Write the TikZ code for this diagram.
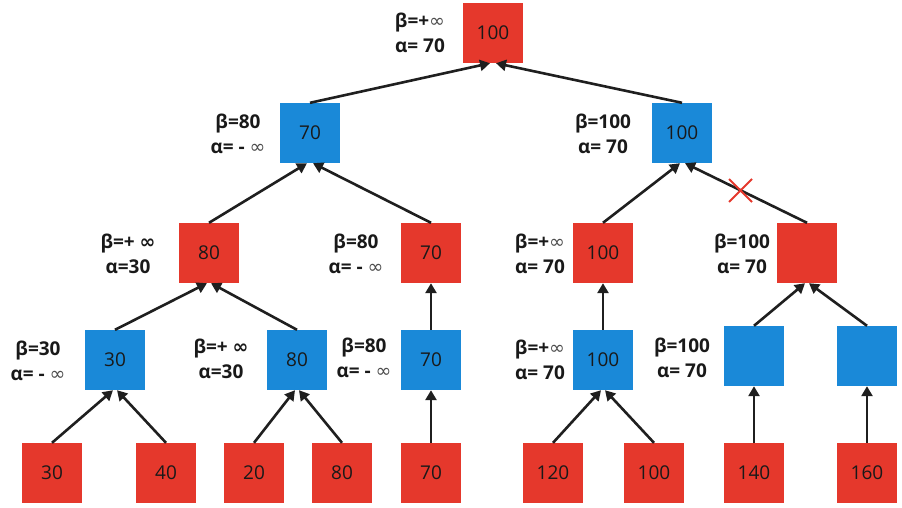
\documentclass[tikz,border=0pt]{standalone}
\usepackage{fontspec}
\setmainfont{Open Sans}
\newfontfamily\symf{DejaVu Sans}
\usetikzlibrary{arrows.meta}
\definecolor{nred}{RGB}{229,56,44}
\definecolor{nblue}{RGB}{26,137,216}
\newcommand{\infl}{{\symf\mdseries\color{black!70}∞}}
\newcommand{\infb}{{\symf\bfseries ∞}}
\begin{document}
\begin{tikzpicture}[x=1pt,y=-1pt,
 box/.style={minimum size=60pt, inner sep=0pt, font=\fontsize{19}{22}\selectfont, text=black!90},
 maxbox/.style={box, fill=nred},
 minbox/.style={box, fill=nblue},
 lbl/.style={align=center, font=\bfseries\fontsize{19}{25}\selectfont, inner sep=0pt, text=black!90},
 arr/.style={line width=2.6pt, draw=black!88, -{Triangle[length=10pt,width=11pt]}}]
\useasboundingbox (0,0) rectangle (902,507);
% nodes
\node[maxbox] (r) at (493,33) {100};
\node[minbox] (a1) at (310,133) {70};
\node[minbox] (a2) at (682,133) {100};
\node[maxbox] (b1) at (209,253) {80};
\node[maxbox] (b2) at (431,253) {70};
\node[maxbox] (b3) at (603,253) {100};
\node[maxbox] (b4) at (807,253) {};
\node[minbox] (c1) at (115,360) {30};
\node[minbox] (c2) at (297,360) {80};
\node[minbox] (c3) at (431,360) {70};
\node[minbox] (c4) at (603,360) {100};
\node[minbox] (c5) at (754,356) {};
\node[minbox] (c6) at (867,356) {};
\node[maxbox] (d1) at (52,473) {30};
\node[maxbox] (d2) at (166,473) {40};
\node[maxbox] (d3) at (254,473) {20};
\node[maxbox] (d4) at (342,473) {80};
\node[maxbox] (d5) at (431,473) {70};
\node[maxbox] (d6) at (553,473) {120};
\node[maxbox] (d7) at (654,473) {100};
\node[maxbox] (d8) at (754,473) {140};
\node[maxbox] (d9) at (867,473) {160};
% labels
\node[lbl] (lr) at (420,33) {β=+\infl\\α= 70};
\node[lbl] (la1) at (238,134) {β=80\\α= - \infl};
\node[lbl] (la2) at (603,134) {β=100\\α= 70};
\node[lbl] (lb1) at (128,254) {β=+ \infb\\α=30};
\node[lbl] (lb2) at (356,254) {β=80\\α= - \infl};
\node[lbl] (lb3) at (540,254) {β=+\infl\\α= 70};
\node[lbl] (lb4) at (742,254) {β=100\\α= 70};
\node[lbl] (lc1) at (38,361) {β=30\\α= - \infl};
\node[lbl] (lc2) at (221,359) {β=+ \infb\\α=30};
\node[lbl] (lc3) at (364,358) {β=80\\α= - \infl};
\node[lbl] (lc4) at (540,360) {β=+\infl\\α= 70};
\node[lbl] (lc5) at (682,358) {β=100\\α= 70};
% connectors
\draw[arr] (a1.north) -- ([xshift=-3pt]r.south);
\draw[arr] (a2.north) -- ([xshift=3pt]r.south);
\draw[arr] (b1.north) -- ([xshift=-3pt]a1.south);
\draw[arr] (b2.north) -- ([xshift=3pt]a1.south);
\draw[arr] (b3.north) -- ([xshift=-2pt]a2.south);
\draw[arr] (b4.north) -- ([xshift=3pt]a2.south);
\draw[arr] (c1.north) -- ([xshift=-2pt]b1.south);
\draw[arr] (c2.north) -- ([xshift=2pt]b1.south);
\draw[arr] (c3.north) -- (b2.south);
\draw[arr] (c4.north) -- (b3.south);
\draw[arr] (c5.north) -- ([xshift=-2pt]b4.south);
\draw[arr] (c6.north) -- ([xshift=2pt]b4.south);
\draw[arr] (d1.north) -- ([xshift=-2pt]c1.south);
\draw[arr] (d2.north) -- ([xshift=2pt]c1.south);
\draw[arr] (d3.north) -- ([xshift=-2pt]c2.south);
\draw[arr] (d4.north) -- ([xshift=2pt]c2.south);
\draw[arr] (d5.north) -- (c3.south);
\draw[arr] (d6.north) -- ([xshift=-2pt]c4.south);
\draw[arr] (d7.north) -- ([xshift=2pt]c4.south);
\draw[arr] (d8.north) -- (c5.south);
\draw[arr] (d9.north) -- (c6.south);
% cut mark
\coordinate (x1) at (729,179);
\coordinate (x2) at (752,202);
\coordinate (x3) at (729,202);
\coordinate (x4) at (752,179);
\draw[nred, line width=2pt] (x1) -- (x2) (x3) -- (x4);
\end{tikzpicture}
\end{document}
